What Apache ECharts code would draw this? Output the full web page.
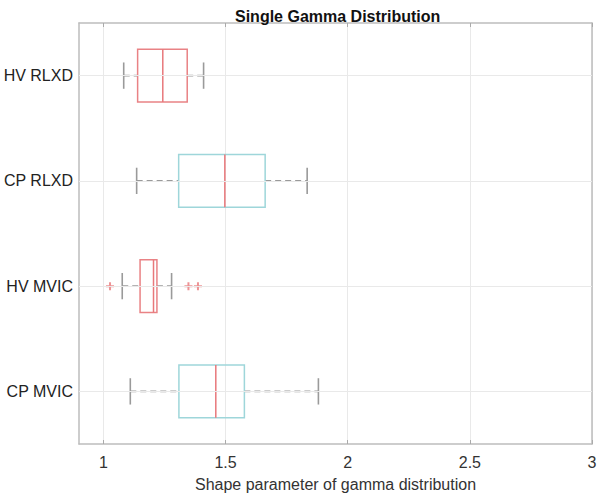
<!DOCTYPE html>
<html><head><meta charset="utf-8">
<script src="https://cdn.jsdelivr.net/npm/echarts@6/dist/echarts.min.js"></script>
<style>html,body{margin:0;padding:0;background:#fff}#c{width:600px;height:498px}</style>
</head><body><div id="c"></div>
<script>
// ---- data ----
const categories = ['CP MVIC', 'HV MVIC', 'CP RLXD', 'HV RLXD'];
const groups = ['CP', 'HV', 'CP', 'HV'];
const lowerWhisker = [1.110, 1.077, 1.136, 1.083];
const q1 = [1.309, 1.150, 1.308, 1.140];
const median = [1.460, 1.205, 1.497, 1.243];
const q3 = [1.577, 1.219, 1.662, 1.343];
const upperWhisker = [1.880, 1.279, 1.834, 1.410];
const outlierCategory = ['HV MVIC', 'HV MVIC', 'HV MVIC'];
const outlierValue = [1.027, 1.348, 1.387];
const xTicks = [1, 1.5, 2, 2.5, 3];
const titleText = 'Single Gamma Distribution';
const xAxisTitle = 'Shape parameter of gamma distribution';

// ---- styles ----
const FONT = '"Liberation Sans", Arial, Helvetica, sans-serif';
const boxColor = { CP: '#9ed6da', HV: '#e98285' };
const medianColor = '#e8787b';
const whiskerColor = '#9a9a9a';
const axisColor = '#bdbdbd';
const gridColor = '#e9e9e9';

const boxData = categories.map((c, i) => [i, lowerWhisker[i], q1[i], median[i], q3[i], upperWhisker[i], groups[i]]);
const outlierData = outlierValue.map((v, i) => [v, outlierCategory[i]]);

function renderItem(params, api) {
  const cat = api.value(0);
  const band = api.size([0, 1])[1];
  const hb = band * 0.25;   // half box height
  const hc = band * 0.125;  // half cap length
  const pLo = api.coord([api.value(1), cat]);
  const pQ1 = api.coord([api.value(2), cat]);
  const pMed = api.coord([api.value(3), cat]);
  const pQ3 = api.coord([api.value(4), cat]);
  const pHi = api.coord([api.value(5), cat]);
  const y = pMed[1];
  const grp = groups[cat];
  const dashed = { stroke: whiskerColor, lineWidth: 1.8, lineDash: [6, 4] };
  const solid = { stroke: whiskerColor, lineWidth: 1.6 };
  return {
    type: 'group',
    children: [
      { type: 'line', shape: { x1: pLo[0], y1: y, x2: pQ1[0], y2: y }, style: dashed },
      { type: 'line', shape: { x1: pQ3[0], y1: y, x2: pHi[0], y2: y }, style: dashed },
      { type: 'line', shape: { x1: pLo[0], y1: y - hc, x2: pLo[0], y2: y + hc }, style: solid },
      { type: 'line', shape: { x1: pHi[0], y1: y - hc, x2: pHi[0], y2: y + hc }, style: solid },
      { type: 'rect', shape: { x: pQ1[0], y: y - hb, width: pQ3[0] - pQ1[0], height: 2 * hb },
        style: { fill: 'none', stroke: boxColor[grp], lineWidth: 1.5 } },
      { type: 'line', shape: { x1: pMed[0], y1: y - hb, x2: pMed[0], y2: y + hb },
        style: { stroke: medianColor, lineWidth: 1.5 } }
    ]
  };
}

const chart = echarts.init(document.getElementById('c'), null, { renderer: 'svg' });
chart.setOption({
  animation: false,
  backgroundColor: '#fff',
  textStyle: { fontFamily: FONT },
  title: {
    text: titleText, left: 230, top: 3,
    textStyle: { fontFamily: FONT, fontSize: 16, fontWeight: 'bold', color: '#111' }
  },
  grid: { left: 79, right: 8, top: 23, bottom: 54, containLabel: false },
  xAxis: [{
    type: 'value', min: 0.9, max: 3, position: 'bottom',
    name: xAxisTitle, nameLocation: 'middle', nameGap: 32,
    nameTextStyle: { fontFamily: FONT, fontSize: 16, color: '#333' },
    axisLine: { show: true, lineStyle: { color: axisColor, width: 1.5 } },
    axisTick: { show: true, inside: true, length: 4, customValues: xTicks, lineStyle: { color: '#aaa' } },
    axisLabel: { customValues: xTicks, fontFamily: FONT, fontSize: 16, color: '#333', margin: 10,
      formatter: v => String(v) },
    splitLine: { show: true, lineStyle: { color: gridColor, width: 1 } }
  }, {
    type: 'value', min: 0.9, max: 3, position: 'top',
    axisLine: { show: true, lineStyle: { color: axisColor, width: 1.5 } },
    axisTick: { show: true, inside: true, length: 4, customValues: xTicks, lineStyle: { color: '#aaa' } },
    axisLabel: { show: false },
    splitLine: { show: false }
  }],
  yAxis: [{
    type: 'category', data: categories, position: 'left',
    axisLine: { show: true, lineStyle: { color: axisColor, width: 1.5 } },
    axisTick: { show: true, inside: true, length: 4, alignWithLabel: true, lineStyle: { color: '#aaa' } },
    axisLabel: { fontFamily: FONT, fontSize: 16, color: '#222', margin: 6 },
    splitLine: { show: false }
  }, {
    type: 'category', data: categories, position: 'right',
    axisLine: { show: true, lineStyle: { color: axisColor, width: 1.5 } },
    axisTick: { show: true, inside: true, length: 4, alignWithLabel: true, lineStyle: { color: '#aaa' } },
    axisLabel: { show: false },
    splitLine: { show: false }
  }],
  series: [{
    type: 'scatter', xAxisIndex: 0, yAxisIndex: 0, z: 2,
    data: outlierData,
    symbol: 'path://M0,5L10,5M5,0L5,10', symbolSize: 8,
    itemStyle: { color: 'none', borderColor: '#e8787b', borderWidth: 2 },
    markLine: {
      silent: true, symbol: 'none', animation: false,
      label: { show: false },
      lineStyle: { color: gridColor, type: 'solid', width: 1 },
      data: categories.map(c => ({ yAxis: c }))
    }
  }, {
    type: 'custom', xAxisIndex: 0, yAxisIndex: 0, z: 3,
    renderItem: renderItem,
    encode: { x: [1, 2, 3, 4, 5], y: 0 },
    data: boxData
  }]
});
</script></body></html>
